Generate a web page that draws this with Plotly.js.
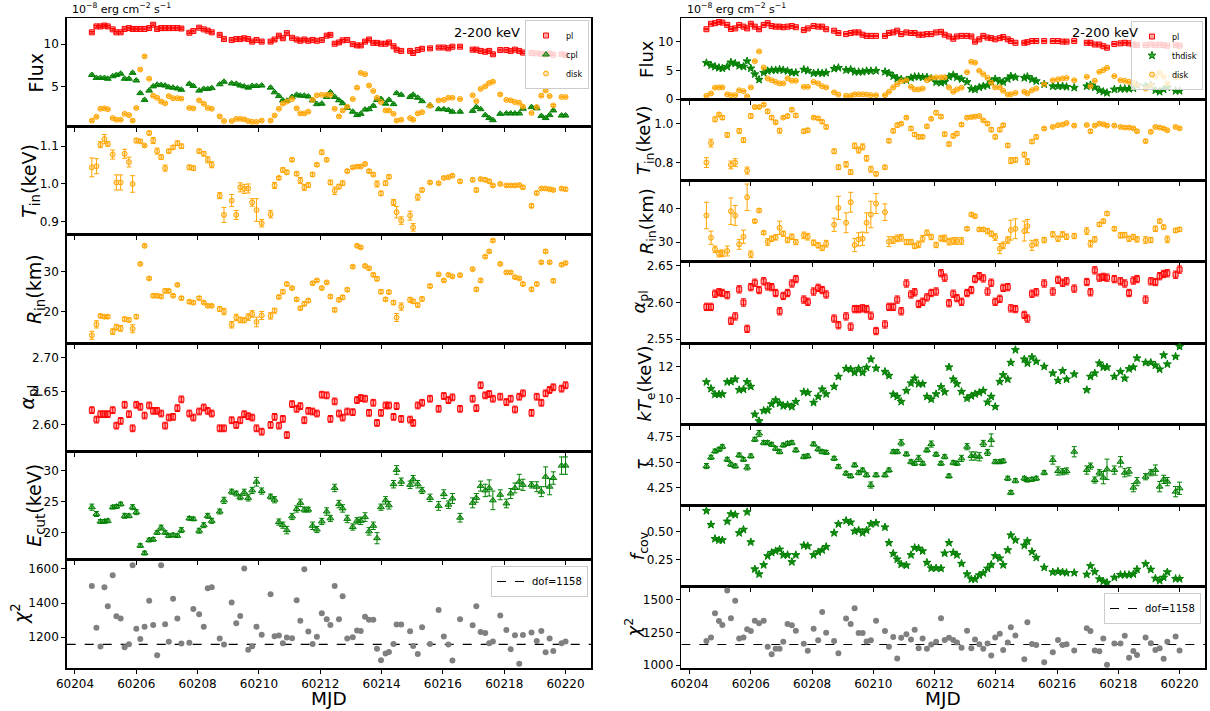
<!DOCTYPE html>
<html><head><meta charset="utf-8">
<script src="https://cdn.plot.ly/plotly-3.0.1.min.js"></script>
<style>html,body{margin:0;padding:0;background:#fff}#chart{width:1210px;height:711px}</style>
</head><body><div id="chart"></div>
<script>
// ---------------- DATA ----------------
const mjd = [60204.55,60204.70,60204.83,60204.96,60205.07,60205.23,60205.35,60205.49,60205.62,60205.76,
60205.88,60206.00,60206.13,60206.27,60206.42,60206.55,60206.68,60206.81,60206.94,60207.06,
60207.20,60207.34,60207.47,60207.73,60207.86,60208.05,60208.20,60208.33,60208.46,60208.72,
60208.86,60209.11,60209.26,60209.39,60209.52,60209.65,60209.78,60209.92,60210.09,60210.38,
60210.51,60210.65,60210.78,60210.91,60211.08,60211.23,60211.35,60211.48,60211.61,60211.75,
60211.89,60212.05,60212.21,60212.33,60212.47,60212.61,60212.73,60212.88,60213.06,60213.20,
60213.32,60213.46,60213.59,60213.73,60213.85,60213.98,60214.13,60214.24,60214.39,60214.49,
60214.64,60214.93,60215.03,60215.18,60215.32,60215.58,60215.86,60216.03,60216.18,60216.31,
60216.56,60216.97,60217.09,60217.23,60217.38,60217.51,60217.63,60217.87,60218.07,60218.21,
60218.35,60218.49,60218.61,60218.89,60219.06,60219.21,60219.35,60219.48,60219.60,60219.87,
60220.00];
const mjdTicks = [60204,60206,60208,60210,60212,60214,60216,60218,60220];
const dof = 1158;

// Left column (cpl model)
const plFluxL = [11.4,12.1,12.1,12.2,12.1,11.75,11.4,11.4,11.8,11.9,
11.8,11.8,11.8,11.8,11.9,12.3,11.8,11.9,11.9,11.9,
11.9,11.9,11.85,11.35,11.55,11.95,11.75,11.6,11.4,11.1,
10.6,10.5,10.6,10.6,10.7,10.6,10.3,10.5,10.3,10.3,
10.55,11.0,10.7,11.3,10.75,10.55,10.4,10.55,10.4,10.5,
10.4,10.5,11.0,11.1,10.05,10.2,10.45,10.5,10.0,9.85,
9.85,10.3,10.55,10.15,10.15,10.05,10.05,10.2,9.75,9.35,
9.2,9.2,8.95,9.3,9.45,9.5,9.6,9.6,9.5,9.7,
9.7,9.35,9.35,9.2,9.1,9.2,8.8,9.3,9.3,9.2,
9.35,9.2,9.0,8.95,8.9,8.85,8.8,8.9,8.75,8.8,8.7];
const cplFluxL = [6.35,6.0,6.0,6.0,5.9,6.2,6.35,6.5,5.9,5.9,
6.6,5.7,4.2,3.4,4.5,5.0,5.2,5.15,5.1,4.9,
4.85,4.75,4.6,5.3,5.05,4.5,4.7,4.7,4.8,5.25,
5.55,5.35,5.3,5.1,5.0,4.85,5.05,5.05,5.1,4.85,
4.3,3.85,3.35,3.3,3.75,4.0,3.9,3.9,3.8,3.35,
2.9,2.95,3.75,4.3,3.75,3.35,3.0,2.45,2.0,1.6,
1.75,2.25,2.3,2.7,3.4,3.5,2.95,3.4,2.9,4.2,
4.0,3.75,4.0,3.65,3.25,2.75,2.3,2.3,2.2,2.0,
2.0,2.1,2.55,2.3,1.6,1.25,1.0,1.75,1.8,1.8,
1.8,1.8,2.35,2.55,2.4,1.5,1.25,1.6,2.15,1.55,1.55];
const diskFluxL = [0.95,1.4,2.35,2.4,2.3,1.25,1.05,1.05,1.75,1.6,
0.95,2.45,7.0,8.55,5.9,3.9,3.65,3.2,3.0,3.85,
3.6,3.6,3.55,2.45,2.4,3.35,2.95,2.45,2.35,1.45,
0.9,0.9,1.15,1.15,1.1,0.9,0.8,0.8,0.95,0.95,
1.55,2.35,2.95,3.2,3.5,2.4,1.8,1.8,2.0,3.4,
3.95,4.0,4.0,4.0,2.35,1.45,2.15,2.6,3.5,4.85,
6.6,6.45,5.1,4.45,3.65,3.15,2.15,2.15,1.75,0.95,
1.05,1.25,1.05,1.8,1.95,2.7,3.35,3.4,3.65,3.65,
3.5,3.95,3.25,4.7,5.0,5.4,5.55,4.05,3.4,3.35,
3.15,3.05,2.6,1.85,2.55,3.9,4.5,3.85,2.75,3.75,3.75];
const tinL = [1.044,1.047,1.104,1.119,1.106,1.078,1.004,1.004,1.080,1.058,
1.000,1.115,1.113,1.102,1.135,1.115,1.087,1.071,1.042,1.087,
1.097,1.108,1.100,1.044,1.042,1.087,1.080,1.064,1.051,0.969,
0.918,0.956,0.918,0.991,0.987,0.988,0.951,0.931,0.896,0.920,
0.996,1.016,1.037,1.031,1.064,1.027,1.009,0.991,0.997,1.025,
1.051,1.084,1.064,1.004,0.982,0.993,1.002,1.034,1.044,1.046,
1.046,1.053,1.034,1.025,1.000,0.975,1.002,1.019,0.951,0.925,
0.903,0.916,0.885,0.965,0.984,1.004,1.002,1.016,1.018,1.022,
1.007,1.011,0.984,1.013,1.011,1.007,0.996,1.000,0.996,0.996,
0.996,0.997,0.991,0.942,0.976,0.988,0.988,0.986,0.984,0.988,0.986];
const tinErrL = [0.025,0.02,0.008,0.012,0.006,0.012,0.02,0.02,0.012,0.013,
0.022,0.006,0.004,0.003,0.005,0.008,0.008,0.006,0.008,0.005,
0.005,0.006,0.006,0.006,0.006,0.005,0.006,0.008,0.008,0.008,
0.02,0.016,0.012,0.012,0.012,0.012,0.01,0.03,0.01,0.01,
0.008,0.004,0.006,0.005,0.004,0.005,0.008,0.008,0.006,0.005,
0.004,0.006,0.004,0.006,0.01,0.006,0.006,0.004,0.003,0.003,
0.003,0.003,0.004,0.004,0.008,0.006,0.006,0.005,0.008,0.015,
0.01,0.012,0.01,0.008,0.005,0.003,0.003,0.003,0.003,0.003,
0.004,0.004,0.005,0.003,0.004,0.004,0.003,0.003,0.003,0.003,
0.003,0.003,0.004,0.005,0.004,0.003,0.003,0.003,0.003,0.003,0.004];
const rinL = [14.2,16.9,19.0,18.8,18.8,15.1,16.2,15.9,18.2,18.0,
15.8,18.8,31.9,36.4,28.3,24.0,24.0,23.8,25.2,25.2,
24.0,26.7,23.4,22.5,22.3,23.4,22.3,21.5,21.5,20.7,
20.1,16.8,18.6,18.0,17.9,18.7,19.5,17.5,19.1,19.0,
20.3,23.7,25.0,26.9,25.9,23.1,20.9,22.0,22.8,27.1,
27.8,25.9,27.3,23.8,20.5,23.0,23.6,25.5,31.2,36.4,
36.0,31.4,30.8,29.2,28.2,25.0,23.1,24.9,22.3,18.6,
21.3,23.0,22.6,21.7,23.2,26.4,29.3,27.8,29.2,28.8,
29.1,30.6,25.6,27.8,33.7,35.0,37.7,31.9,29.8,29.8,
28.6,28.3,26.9,25.6,26.9,32.3,35.0,32.3,27.7,31.7,32.1];
const rinErrL = [1.0,0.9,0.4,0.4,0.4,0.7,0.7,0.7,0.5,0.5,
1.0,0.5,0.3,0.3,0.3,0.4,0.4,0.4,0.5,0.4,
0.3,0.3,0.4,0.4,0.4,0.4,0.3,0.3,0.3,0.6,
0.8,0.8,0.8,0.7,0.6,0.8,0.8,1.2,1.0,0.8,
0.6,0.4,0.5,0.4,0.3,0.4,0.4,0.5,0.4,0.3,
0.3,0.3,0.3,0.4,0.5,0.4,0.5,0.4,0.3,0.3,
0.3,0.3,0.3,0.4,0.5,0.5,0.4,0.4,0.5,1.0,
0.9,0.6,0.5,0.5,0.5,0.4,0.3,0.3,0.3,0.3,
0.3,0.3,0.4,0.4,0.3,0.3,0.3,0.3,0.3,0.3,
0.3,0.3,0.4,0.4,0.4,0.3,0.4,0.3,0.4,0.3,0.3];
const alphaL = [2.622,2.608,2.616,2.616,2.616,2.622,2.599,2.606,2.630,2.616,
2.595,2.630,2.627,2.614,2.629,2.621,2.621,2.617,2.599,2.611,
2.612,2.625,2.638,2.617,2.611,2.620,2.626,2.621,2.617,2.595,
2.595,2.607,2.600,2.607,2.616,2.613,2.611,2.595,2.590,2.600,
2.612,2.599,2.609,2.585,2.631,2.624,2.628,2.607,2.621,2.620,
2.617,2.645,2.644,2.609,2.635,2.617,2.611,2.620,2.619,2.637,
2.640,2.639,2.618,2.633,2.603,2.618,2.629,2.629,2.612,2.628,
2.609,2.608,2.603,2.629,2.633,2.639,2.624,2.643,2.637,2.641,
2.624,2.639,2.625,2.659,2.644,2.646,2.639,2.642,2.634,2.639,
2.623,2.642,2.647,2.618,2.642,2.633,2.647,2.652,2.656,2.654,2.659];
const alphaErrL = 0.005;
const ecutL = [24.1,23.0,21.8,21.8,21.9,24.1,24.2,24.6,22.7,22.7,
24.1,23.3,17.9,16.7,18.8,18.9,20.0,20.8,20.0,19.5,
19.6,19.5,20.4,22.3,22.2,20.3,21.2,22.7,21.9,23.4,
25.2,26.6,26.3,25.7,26.5,25.6,26.8,28.2,26.7,25.8,
25.3,21.7,21.2,20.4,22.6,23.8,24.8,23.7,23.7,21.1,
20.5,21.8,23.4,22.3,27.2,24.6,23.9,22.2,20.9,21.9,
21.9,22.5,20.2,21.1,19.1,24.1,25.2,24.4,27.8,30.1,
28.2,27.7,28.6,27.8,26.8,25.6,24.3,26.2,24.5,25.5,
22.4,24.8,25.6,27.5,26.8,27.2,25.2,26.1,24.7,26.3,
27.2,28.2,27.7,27.7,27.4,26.6,29.0,27.4,28.8,30.8,30.8];
const ecutErrL = [0.5,0.4,0.3,0.3,0.3,0.3,0.3,0.3,0.4,0.3,
0.4,0.4,0.3,0.3,0.3,0.3,0.3,0.4,0.3,0.3,
0.3,0.3,0.4,0.3,0.3,0.4,0.4,0.4,0.4,0.4,
0.5,0.4,0.4,0.4,0.5,0.5,0.5,0.7,0.5,0.4,
0.5,0.5,0.5,0.6,0.5,0.5,0.6,0.4,0.4,0.6,
0.5,0.5,0.6,0.5,0.6,0.6,0.6,0.6,0.5,0.5,
0.6,0.7,0.6,0.6,0.9,0.5,0.6,0.6,0.6,0.7,
0.6,0.6,0.6,0.6,0.5,0.6,0.7,0.7,0.6,0.8,
0.7,0.8,0.7,0.8,1.0,1.3,1.5,0.8,0.7,0.8,
0.8,1.2,0.9,0.5,0.8,0.8,1.6,1.3,1.0,1.4,1.4];
const chi2L = [1500,1255,1145,1493,1381,1563,1323,1309,1141,1159,
1621,1249,1190,1262,1413,1272,1095,1621,1276,1173,
1426,1309,1163,1167,1366,1335,1262,1487,1493,1192,
1157,1403,1282,1325,1602,1126,1147,1262,1214,1452,
1206,1210,1165,1198,1194,1417,1296,1598,1233,1160,
1203,1340,1305,1272,1500,1305,1440,1193,1200,1240,
1237,1320,1303,1303,1132,1065,1105,1113,1160,1275,
1275,1235,1148,1102,1258,1160,1360,1205,1157,1063,
1305,1270,1382,1230,1225,1165,1175,1328,1243,1130,
1212,1045,1213,1228,1178,1237,1112,1193,1120,1165,1175];

// Right column (thdisk model)
const plFluxR = [12.15,13.1,13.2,13.4,13.3,12.9,12.2,12.3,12.9,12.6,
12.3,13.1,12.6,12.15,12.9,13.2,12.7,12.6,12.6,12.5,
12.6,12.7,12.5,12.0,12.3,12.7,12.6,12.6,12.15,11.9,
11.5,11.3,11.5,11.6,11.6,11.2,11.0,11.0,11.0,11.0,
11.5,11.6,11.9,11.3,11.6,11.5,11.5,11.2,11.2,11.3,
11.3,11.6,11.7,11.2,10.9,10.5,10.9,11.0,11.0,10.9,
10.0,10.4,11.0,10.7,10.6,10.4,10.6,10.8,10.4,10.1,
9.8,9.8,9.9,10.1,10.1,10.1,10.1,10.1,10.0,10.0,
10.1,9.8,9.8,9.5,9.5,9.2,8.95,9.6,9.7,9.8,
9.7,9.5,9.4,9.4,9.5,9.4,9.5,9.4,9.3,9.4,9.3];
const thdiskFluxR = [6.3,5.9,5.65,5.45,5.35,5.65,6.4,6.2,5.8,5.65,
6.6,5.35,4.35,3.4,4.6,4.9,5.05,5.05,5.15,5.05,
4.9,4.6,4.6,5.15,4.95,4.5,4.6,4.5,4.6,5.3,
5.45,5.05,5.15,4.75,4.75,4.75,4.9,4.9,4.95,4.75,
4.5,4.0,3.6,3.45,3.3,3.7,3.9,3.9,3.8,3.8,
3.6,2.95,2.85,3.0,3.9,4.2,3.8,3.5,3.0,1.8,
1.7,2.05,2.25,2.4,3.0,3.5,3.15,2.95,3.5,4.0,
3.8,3.7,3.9,3.45,3.15,2.6,2.25,2.25,2.25,2.15,
2.0,2.25,2.45,2.05,1.55,1.3,1.1,1.7,1.8,1.8,
1.8,1.9,2.45,2.25,2.45,1.55,1.3,1.7,2.05,1.45,1.45];
const diskFluxR = [0.6,1.0,2.0,2.05,2.05,0.85,0.7,0.7,1.55,1.4,
0.5,2.05,6.6,8.3,5.5,3.6,3.3,3.0,2.75,2.75,
3.6,3.2,3.2,2.15,2.15,3.0,2.75,2.25,2.05,1.2,
0.8,0.6,0.6,0.85,0.85,0.85,0.8,0.7,0.7,0.7,
1.3,2.05,2.6,3.15,3.3,2.15,1.7,1.7,1.85,3.3,
3.7,3.8,3.8,3.8,2.05,1.3,1.7,2.0,4.7,6.5,
6.35,4.95,4.35,3.7,2.85,2.05,2.05,1.45,0.8,0.85,
1.1,1.3,1.0,1.55,1.85,2.6,3.3,3.45,3.6,3.7,
3.3,3.9,2.25,3.2,4.75,5.05,5.45,4.0,3.3,3.2,
3.0,2.85,2.45,1.85,2.45,3.9,4.6,3.9,2.75,3.8,3.8];
const tinR = [0.800,0.900,1.022,1.047,1.031,0.942,0.788,0.800,0.963,0.915,
0.759,1.039,1.085,1.085,1.097,1.063,1.031,1.007,0.964,1.031,
1.039,1.071,1.042,0.961,0.966,1.031,1.027,1.010,0.983,0.858,
0.776,0.791,0.751,0.886,0.864,0.881,0.822,0.766,0.742,0.776,
0.912,0.963,0.992,1.000,1.031,0.975,0.944,0.932,0.932,0.986,
1.025,1.056,1.036,0.946,0.895,0.937,0.949,0.995,1.031,1.034,
1.036,1.039,1.017,1.000,0.969,0.932,0.969,0.992,0.888,0.810,
0.814,0.841,0.805,0.908,0.932,0.975,0.983,0.992,0.995,1.003,
0.990,0.993,0.961,0.990,1.000,0.997,0.990,0.990,0.983,0.980,
0.980,0.976,0.961,0.910,0.958,0.983,0.980,0.975,0.966,0.983,0.976];
const tinErrR = [0.025,0.02,0.012,0.008,0.01,0.012,0.02,0.02,0.012,0.012,
0.018,0.012,0.006,0.006,0.006,0.01,0.01,0.008,0.012,0.006,
0.008,0.008,0.01,0.01,0.01,0.006,0.006,0.008,0.01,0.012,
0.012,0.014,0.012,0.014,0.015,0.015,0.014,0.015,0.01,0.01,
0.01,0.01,0.01,0.006,0.006,0.01,0.01,0.01,0.008,0.008,
0.006,0.01,0.008,0.01,0.01,0.01,0.01,0.008,0.006,0.005,
0.005,0.005,0.005,0.008,0.01,0.01,0.01,0.008,0.01,0.015,
0.012,0.012,0.015,0.01,0.01,0.006,0.005,0.005,0.005,0.005,
0.005,0.005,0.008,0.005,0.005,0.005,0.005,0.005,0.005,0.005,
0.005,0.005,0.006,0.008,0.006,0.005,0.005,0.005,0.005,0.005,0.005];
const rinR = [38.0,31.3,27.8,26.5,26.6,27.3,39.3,38.0,29.3,31.6,
43.5,26.3,36.3,39.5,32.8,30.0,31.0,31.4,34.3,32.5,
30.6,31.6,30.0,32.0,31.6,29.8,29.0,28.2,29.5,35.2,
40.3,35.8,42.0,29.1,30.8,31.0,35.8,38.3,41.6,39.0,
30.1,30.6,31.1,31.3,30.0,30.0,28.8,29.3,31.0,32.8,
31.5,29.1,31.1,31.1,30.1,30.3,30.3,30.3,34.0,38.3,
37.8,33.8,33.8,33.3,32.5,31.5,28.0,29.0,30.6,33.6,
34.0,33.3,34.8,29.0,29.8,30.6,32.3,31.0,32.3,31.6,
31.8,33.3,29.5,30.8,35.3,36.3,38.6,34.0,32.0,32.1,
31.0,31.5,30.8,30.6,30.6,34.0,36.3,34.5,30.8,33.5,33.8];
const rinErrR = [4.0,2.0,1.0,1.0,1.0,1.5,4.0,3.0,1.5,2.0,
4.0,1.0,0.5,0.5,0.5,1.0,0.8,0.8,2.0,0.8,
0.8,0.8,0.8,1.0,1.0,0.8,0.8,0.8,1.0,2.0,
3.5,3.0,3.0,2.0,2.0,2.0,3.0,4.0,3.0,2.5,
1.5,1.0,1.0,1.0,0.8,0.8,0.8,1.0,1.0,0.8,
0.8,0.8,0.8,1.0,1.0,1.0,1.0,1.0,0.5,0.5,
0.5,0.5,0.5,0.8,0.8,1.0,1.5,1.0,1.0,3.0,
3.0,3.0,2.0,1.5,1.0,0.8,0.8,0.8,0.8,0.8,
0.8,1.0,1.0,0.8,0.6,0.6,0.6,0.6,0.8,0.8,
0.8,0.8,0.8,1.0,0.8,0.8,0.6,0.6,1.0,0.6,0.6];
const alphaR = [2.594,2.594,2.612,2.614,2.613,2.610,2.575,2.581,2.618,2.600,
2.564,2.621,2.627,2.617,2.629,2.622,2.621,2.613,2.588,2.609,
2.613,2.626,2.632,2.604,2.601,2.615,2.620,2.617,2.611,2.578,
2.569,2.581,2.567,2.591,2.591,2.592,2.591,2.582,2.561,2.570,
2.594,2.594,2.604,2.588,2.626,2.611,2.614,2.598,2.601,2.607,
2.613,2.615,2.640,2.634,2.599,2.612,2.606,2.601,2.613,2.617,
2.632,2.636,2.633,2.615,2.627,2.601,2.605,2.620,2.621,2.592,
2.591,2.583,2.578,2.612,2.614,2.626,2.615,2.631,2.627,2.629,
2.619,2.628,2.614,2.644,2.634,2.635,2.634,2.632,2.629,2.626,
2.613,2.630,2.632,2.604,2.629,2.628,2.636,2.639,2.640,2.638,2.645];
const alphaErrR = 0.005;
const kteR = [11.03,10.61,10.25,10.25,10.27,11.03,11.05,11.20,10.53,10.57,
11.03,10.74,8.99,8.57,9.22,9.26,9.64,9.89,9.68,9.52,
9.58,9.47,9.79,10.40,10.36,9.73,10.11,10.57,10.27,10.74,
11.37,11.87,11.83,11.62,11.87,11.62,11.94,12.46,11.89,11.68,
11.43,10.25,10.11,9.79,10.48,10.95,11.26,10.91,10.91,10.11,
9.94,10.27,10.72,10.40,11.96,11.20,10.91,10.42,10.00,10.15,
10.27,10.36,10.48,9.75,10.11,9.47,11.05,11.47,11.20,12.25,
13.05,12.46,12.21,12.59,12.32,12.00,11.58,11.12,11.73,11.20,
11.52,10.53,11.37,11.58,12.21,11.96,11.96,11.37,11.68,11.26,
11.85,11.96,12.53,12.25,12.25,12.08,11.83,12.72,12.15,12.63,13.26];
const kteErrR = 0.06;
const tauR = [4.464,4.549,4.610,4.627,4.653,4.529,4.481,4.464,4.571,4.529,
4.451,4.562,4.724,4.782,4.692,4.692,4.675,4.636,4.604,4.669,
4.685,4.692,4.620,4.555,4.562,4.679,4.630,4.604,4.597,4.539,
4.458,4.393,4.367,4.474,4.399,4.425,4.377,4.279,4.377,4.377,
4.425,4.604,4.604,4.692,4.581,4.506,4.490,4.539,4.490,4.620,
4.679,4.578,4.490,4.555,4.367,4.497,4.490,4.539,4.653,4.562,
4.562,4.555,4.685,4.597,4.718,4.506,4.506,4.513,4.344,4.205,
4.321,4.344,4.328,4.334,4.344,4.399,4.523,4.416,4.409,4.416,
4.604,4.425,4.464,4.328,4.399,4.351,4.432,4.425,4.506,4.399,
4.409,4.253,4.312,4.360,4.399,4.425,4.263,4.334,4.312,4.214,4.247];
const tauErrR = [0.025,0.02,0.02,0.02,0.02,0.02,0.02,0.02,0.02,0.02,
0.025,0.02,0.02,0.03,0.02,0.02,0.02,0.02,0.02,0.02,
0.02,0.02,0.02,0.02,0.02,0.02,0.02,0.02,0.02,0.02,
0.02,0.02,0.02,0.02,0.02,0.02,0.02,0.03,0.02,0.02,
0.02,0.02,0.02,0.03,0.02,0.02,0.02,0.03,0.02,0.02,
0.03,0.02,0.02,0.02,0.02,0.02,0.02,0.03,0.03,0.04,
0.04,0.04,0.03,0.03,0.06,0.02,0.02,0.02,0.02,0.02,
0.02,0.02,0.02,0.02,0.02,0.02,0.04,0.04,0.03,0.03,
0.05,0.04,0.03,0.03,0.03,0.06,0.1,0.04,0.05,0.04,
0.04,0.04,0.04,0.03,0.03,0.05,0.05,0.04,0.04,0.05,0.06];
const fcovR = [0.690,0.565,0.438,0.426,0.426,0.595,0.661,0.655,0.491,0.521,
0.679,0.408,0.164,0.119,0.202,0.283,0.313,0.327,0.342,0.292,
0.292,0.229,0.292,0.378,0.372,0.292,0.318,0.336,0.366,0.491,
0.571,0.601,0.586,0.506,0.515,0.491,0.515,0.571,0.580,0.542,
0.402,0.304,0.253,0.208,0.199,0.292,0.357,0.351,0.327,0.223,
0.173,0.173,0.170,0.307,0.402,0.313,0.292,0.214,0.119,0.074,
0.074,0.110,0.128,0.170,0.205,0.283,0.262,0.202,0.336,0.470,
0.426,0.378,0.417,0.321,0.268,0.179,0.137,0.143,0.137,0.131,
0.131,0.116,0.193,0.140,0.074,0.054,0.042,0.089,0.113,0.113,
0.113,0.119,0.161,0.211,0.161,0.080,0.060,0.089,0.137,0.077,0.077];
const fcovErrR = 0.008;
const chi2R = [1184,1212,1395,1337,1306,1569,1357,1490,1204,1212,
1273,1260,1339,1319,1339,1140,1084,1125,1125,1179,
1314,1304,1263,1163,1110,1278,1191,1406,1247,1184,
1092,1355,1314,1434,1245,1245,1181,1191,1339,1260,
1140,1214,1051,1209,1235,1196,1270,1130,1204,1125,
1158,1179,1357,1193,1209,1193,1173,1134,1263,1129,
1196,1160,1126,1165,1075,1211,1240,1116,1173,1289,
1227,1046,1327,1162,1155,1023,1098,1193,1155,1160,
1113,1281,1260,1113,1106,1204,1003,1165,1165,1224,
1057,1108,1077,1211,1168,1116,1129,1049,1178,1219,1113];
const fluxErr = 0.1;

// ---------------- LAYOUT GEOMETRY ----------------
const W = 1210, H = 711;
const px = v => v / W, py = v => 1 - v / H;
const colL = [66.7, 591], colR = [681.3, 1205];
const bL = [18.3, 126.6, 234.9, 343.3, 451.6, 559.9, 668.3];
const bR = [18.3, 99.5, 180.7, 261.9, 343.1, 424.4, 505.6, 586.8, 668];
const xRange = [60203.73, 60220.83];
const FONT = 'DejaVu Sans, Verdana, sans-serif';

const panels = [
  {col:'L', row:0, range:[0.24,13.06], tick0:0, dtick:5, fmt:'', title:'Flux', tx:36, fs:19},
  {col:'L', row:1, range:[0.865,1.152], tick0:0, dtick:0.1, fmt:'.1f', title:'<i>T</i><sub>in</sub>(keV)', tx:31, fs:19},
  {col:'L', row:2, range:[12.2,39.1], tick0:0, dtick:10, fmt:'', title:'<i>R</i><sub>in</sub>(km)', tx:35, fs:19},
  {col:'L', row:3, range:[2.5604,2.7214], tick0:2.5, dtick:0.05, fmt:'.2f', title:'<i>α</i><sub>pl</sub>', tx:28, fs:19},
  {col:'L', row:4, range:[15.6,33.06], tick0:0, dtick:5, fmt:'', title:'<i>E</i><sub>cut</sub>(keV)', tx:36, fs:19},
  {col:'L', row:5, range:[1018,1653], tick0:0, dtick:200, fmt:'', title:'<i>χ</i><sup>2</sup>', tx:20, fs:19},
  {col:'R', row:0, range:[-0.05,14.05], tick0:0, dtick:5, fmt:'', title:'Flux', tx:647, fs:18},
  {col:'R', row:1, range:[0.707,1.124], tick0:0, dtick:0.2, fmt:'.1f', title:'<i>T</i><sub>in</sub>(keV)', tx:645, fs:18},
  {col:'R', row:2, range:[24.0,48.5], tick0:0, dtick:10, fmt:'', title:'<i>R</i><sub>in</sub>(km)', tx:648, fs:18},
  {col:'R', row:3, range:[2.5445,2.6555], tick0:2.5, dtick:0.05, fmt:'.2f', title:'<i>α</i><sub>pl</sub>', tx:639, fs:18},
  {col:'R', row:4, range:[8.36,13.48], tick0:0, dtick:2, fmt:'', title:'<i>kT</i><sub>e</sub>(keV)', tx:646, fs:18},
  {col:'R', row:5, range:[4.078,4.871], tick0:4, dtick:0.25, fmt:'.2f', title:'<i>τ</i>', tx:641, fs:18},
  {col:'R', row:6, range:[0.005,0.7375], tick0:0, dtick:0.25, fmt:'.2f', title:'<i>f</i><sub>cov</sub>', tx:639, fs:18},
  {col:'R', row:7, range:[979,1597], tick0:0, dtick:250, fmt:'', title:'<i>χ</i><sup>2</sup>', tx:633, fs:18}
];

const STY = {
  red:    {symbol:'square', size:5, fill:'rgba(255,0,0,0.35)', edge:'#ff0000'},
  tri:    {symbol:'triangle-up', size:6, fill:'rgba(0,128,0,0.55)', edge:'#008000'},
  star:   {symbol:'star', size:6, fill:'rgba(0,128,0,0.75)', edge:'#008000'},
  orange: {symbol:'circle', size:5, fill:'rgba(255,165,0,0.3)', edge:'#FFA500'},
  gray:   {symbol:'circle', size:6, fill:'#808080', edge:'#808080'}
};

function errSpec(err, color) {
  if (err == null) return {visible:false};
  const base = {visible:true, color:color, thickness:1, width:2.5};
  return Array.isArray(err) ? Object.assign(base, {type:'data', array:err})
                            : Object.assign(base, {type:'constant', value:err});
}
function axs(k) { return k === 1 ? '' : String(k); }
function series(k, y, err, sty, name, legend) {
  const s = STY[sty];
  return {
    type:'scatter', mode:'markers', x:mjd, y:y,
    xaxis:'x' + axs(k), yaxis:'y' + axs(k),
    name:name || '', showlegend:!!legend, legend:legend || 'legend',
    marker:{symbol:s.symbol, size:s.size, color:s.fill, line:{color:s.edge, width:sty === 'gray' ? 0 : 1}},
    error_y:errSpec(err, s.edge), hoverinfo:'skip'
  };
}
function dofLine(k, legend) {
  return {type:'scatter', mode:'lines', x:xRange, y:[dof, dof],
    xaxis:'x' + axs(k), yaxis:'y' + axs(k), name:'dof=' + dof, showlegend:true, legend:legend,
    line:{color:'black', width:1.2, dash:'dash'}, hoverinfo:'skip'};
}

const data = [
  series(1, plFluxL, fluxErr, 'red', 'pl', 'legend'),
  series(1, cplFluxL, fluxErr, 'tri', 'cpl', 'legend'),
  series(1, diskFluxL, fluxErr, 'orange', 'disk', 'legend'),
  series(2, tinL, tinErrL, 'orange'),
  series(3, rinL, rinErrL, 'orange'),
  series(4, alphaL, alphaErrL, 'red'),
  series(5, ecutL, ecutErrL, 'tri'),
  dofLine(6, 'legend3'),
  series(6, chi2L, null, 'gray'),
  series(7, plFluxR, fluxErr, 'red', 'pl', 'legend2'),
  series(7, thdiskFluxR, fluxErr, 'star', 'thdisk', 'legend2'),
  series(7, diskFluxR, fluxErr, 'orange', 'disk', 'legend2'),
  series(8, tinR, tinErrR, 'orange'),
  series(9, rinR, rinErrR, 'orange'),
  series(10, alphaR, alphaErrR, 'red'),
  series(11, kteR, kteErrR, 'star'),
  series(12, tauR, tauErrR, 'tri'),
  series(13, fcovR, fcovErrR, 'star'),
  dofLine(14, 'legend4'),
  series(14, chi2R, null, 'gray')
];

const common = {
  showline:true, mirror:true, linecolor:'black', linewidth:1.5,
  ticks:'outside', ticklen:4, tickwidth:1, tickcolor:'black',
  showgrid:false, zeroline:false, tickfont:{family:FONT, size:12, color:'black'}, fixedrange:true
};

const annotations = [];
const layout = {
  width:W, height:H, margin:{l:0, r:0, t:0, b:0},
  paper_bgcolor:'white', plot_bgcolor:'white',
  font:{family:FONT, color:'black'}, showlegend:true
};

panels.forEach((p, i) => {
  const k = i + 1, a = axs(k);
  const isL = p.col === 'L';
  const b = isL ? bL : bR, c = isL ? colL : colR;
  const top = b[p.row], bot = b[p.row + 1];
  const bottomPanel = p.row === b.length - 2;
  layout['xaxis' + a] = Object.assign({}, common, {
    domain:[px(c[0]), px(c[1])], anchor:'y' + a, range:xRange,
    tickmode:'array', tickvals:mjdTicks, ticktext:mjdTicks.map(String), showticklabels:bottomPanel
  });
  layout['yaxis' + a] = Object.assign({}, common, {
    domain:[py(bot), py(top)], anchor:'x' + a, range:p.range,
    tick0:p.tick0, dtick:p.dtick, tickformat:p.fmt
  });
  annotations.push({text:p.title, x:px(p.tx), y:py((top + bot) / 2), xref:'paper', yref:'paper',
    textangle:-90, showarrow:false, xanchor:'center', yanchor:'middle', font:{family:FONT, size:p.fs, color:'black'}});
});

// MJD labels
annotations.push({text:'MJD', x:px((colL[0] + colL[1]) / 2), y:py(698), xref:'paper', yref:'paper',
  showarrow:false, xanchor:'center', yanchor:'middle', font:{family:FONT, size:18.5, color:'black'}});
annotations.push({text:'MJD', x:px((colR[0] + colR[1]) / 2), y:py(698), xref:'paper', yref:'paper',
  showarrow:false, xanchor:'center', yanchor:'middle', font:{family:FONT, size:18.5, color:'black'}});
// flux units
const unitText = '10<sup>−8</sup> erg cm<sup>−2</sup> s<sup>−1</sup>';
annotations.push({text:unitText, x:px(70), y:py(9), xref:'paper', yref:'paper', showarrow:false,
  xanchor:'left', yanchor:'middle', font:{family:FONT, size:11, color:'black'}});
annotations.push({text:unitText, x:px(685), y:py(9), xref:'paper', yref:'paper', showarrow:false,
  xanchor:'left', yanchor:'middle', font:{family:FONT, size:11, color:'black'}});
// band label
annotations.push({text:'2-200 keV', x:px(487), y:py(33), xref:'paper', yref:'paper', showarrow:false,
  xanchor:'center', yanchor:'middle', font:{family:FONT, size:13, color:'black'}});
annotations.push({text:'2-200 keV', x:px(1105), y:py(32), xref:'paper', yref:'paper', showarrow:false,
  xanchor:'center', yanchor:'middle', font:{family:FONT, size:13, color:'black'}});
layout.annotations = annotations;

const legStyle = {bgcolor:'rgba(255,255,255,0.8)', bordercolor:'#cccccc', borderwidth:1,
  xanchor:'right', yanchor:'top', xref:'paper', yref:'paper', itemwidth:30, tracegroupgap:0,
  font:{family:FONT, size:8, color:'black'}};
layout.legend  = Object.assign({}, legStyle, {x:px(589), y:py(20)});
layout.legend2 = Object.assign({}, legStyle, {x:px(1203), y:py(21)});
layout.legend3 = Object.assign({}, legStyle, {x:px(588), y:py(566), font:{family:FONT, size:10, color:'black'}});
layout.legend4 = Object.assign({}, legStyle, {x:px(1201), y:py(593), font:{family:FONT, size:10, color:'black'}});

Plotly.newPlot('chart', data, layout, {displayModeBar:false, staticPlot:true});
</script>
</body></html>
